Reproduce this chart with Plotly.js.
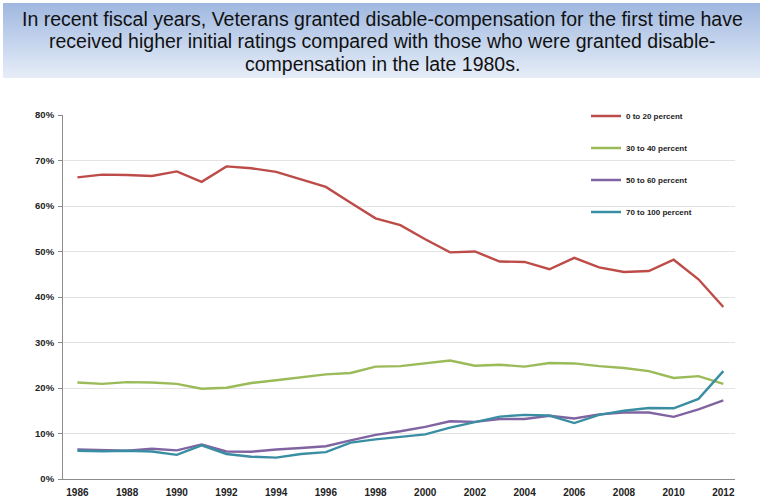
<!DOCTYPE html>
<html>
<head>
<meta charset="utf-8">
<script src="https://cdn.plot.ly/plotly-3.0.1.min.js"></script>
<style>
  html, body { margin: 0; padding: 0; background: #ffffff; }
  #wrap { position: relative; width: 763px; height: 501px; overflow: hidden; }
  #band { position: absolute; left: 3px; top: 3px; width: 757px; height: 75px;
          background: linear-gradient(to bottom, #9fb7df 0%, #c3d3ec 50%, #e6edf8 100%); z-index: 0; }
  #chart { position: absolute; left: 0; top: 0; width: 763px; height: 501px; z-index: 1; }
</style>
</head>
<body>
<div id="wrap">
  <div id="band"></div>
  <div id="chart"></div>
</div>
<script>
const years = [1986,1987,1988,1989,1990,1991,1992,1993,1994,1995,1996,1997,1998,1999,2000,2001,2002,2003,2004,2005,2006,2007,2008,2009,2010,2011,2012];
const pct0to20 = [66.3,66.9,66.8,66.6,67.6,65.3,68.7,68.3,67.5,65.8,64.2,60.7,57.3,55.8,52.7,49.8,50.0,47.8,47.7,46.1,48.6,46.5,45.5,45.7,48.2,43.9,37.8];
const pct30to40 = [21.2,20.9,21.3,21.2,20.9,19.85,20.05,21.1,21.7,22.3,23.0,23.3,24.7,24.8,25.5,26.05,24.9,25.1,24.7,25.5,25.4,24.8,24.4,23.7,22.2,22.6,20.9];
const pct50to60 = [6.5,6.3,6.2,6.65,6.3,7.6,6.05,6.0,6.5,6.8,7.2,8.5,9.7,10.5,11.45,12.7,12.55,13.2,13.2,13.9,13.3,14.2,14.6,14.6,13.65,15.3,17.3];
const pct70to100 = [6.2,6.1,6.2,6.05,5.3,7.4,5.5,4.9,4.7,5.5,5.9,8.0,8.7,9.3,9.8,11.3,12.5,13.7,14.1,13.95,12.3,14.1,15.0,15.6,15.55,17.6,23.7];
const seriesNames = ["0 to 20 percent","30 to 40 percent","50 to 60 percent","70 to 100 percent"];
const seriesColors = ["#bd4c49","#9bbb59","#8064a2","#3a8ea3"];
const titleLines = [
  "In recent fiscal years, Veterans granted disable-compensation for the first time have",
  "received higher initial ratings compared with those who were granted disable-",
  "compensation in the late 1980s."
];

const allSeries = [pct0to20, pct30to40, pct50to60, pct70to100];
const traces = allSeries.map((vals, i) => ({
  x: years, y: vals, type: 'scatter', mode: 'lines',
  name: seriesNames[i], legendgroup: 'g' + i,
  line: { color: seriesColors[i], width: 2.4 },
  hoverinfo: 'x+y+name'
}));

const W = 763, H = 501;
const mL = 63, mR = 28, mT = 114.5, mB = 21.7;
const plotH = H - mT - mB, plotW = W - mL - mR;
const titleY = [18, 40.5, 63];
const titleCenterX = 382;
const annotations = titleLines.map((t, i) => ({
  text: t, xref: 'paper', yref: 'paper',
  x: (titleCenterX - mL) / plotW, xanchor: 'center',
  y: 1 + (mT - titleY[i]) / plotH, yanchor: 'middle', showarrow: false,
  font: { family: 'Liberation Sans, Arial, sans-serif', size: 19.5, color: '#111111' }
}));

const layout = {
  width: W, height: H,
  margin: { l: mL, r: mR, t: mT, b: mB, pad: 0 },
  paper_bgcolor: 'rgba(0,0,0,0)',
  plot_bgcolor: 'rgba(0,0,0,0)',
  showlegend: true,
  legend: {
    x: (586 - mL) / plotW, xref: 'paper',
    y: 1 + (mT - 101) / plotH, yanchor: 'top',
    bgcolor: 'rgba(0,0,0,0)',
    font: { family: 'Liberation Sans, Arial, sans-serif', size: 8, color: '#222222', weight: 'bold' },
    traceorder: 'grouped', tracegroupgap: 13
  },
  xaxis: {
    range: [1985.42, 2012.47],
    tickmode: 'array',
    tickvals: years.filter(y => y % 2 === 0),
    ticktext: years.filter(y => y % 2 === 0).map(String),
    showgrid: false, zeroline: false,
    showline: true, linecolor: '#8c8c8c', linewidth: 1,
    ticks: '', ticklabelstandoff: 4,
    tickfont: { family: 'Liberation Sans, Arial, sans-serif', size: 10, color: '#222222', weight: 'bold' },
    fixedrange: true
  },
  yaxis: {
    range: [0, 80], dtick: 10, ticksuffix: '%',
    showgrid: true, gridcolor: '#e3e3e3', gridwidth: 1,
    zeroline: false,
    showline: true, linecolor: '#8c8c8c', linewidth: 1,
    ticks: 'outside', ticklen: 4, tickcolor: '#8c8c8c', ticklabelstandoff: 2,
    tickfont: { family: 'Liberation Sans, Arial, sans-serif', size: 9.5, color: '#222222', weight: 'bold' },
    fixedrange: true
  },
  annotations: annotations
};

Plotly.newPlot('chart', traces, layout, { displayModeBar: false, responsive: false });
</script>
</body>
</html>
